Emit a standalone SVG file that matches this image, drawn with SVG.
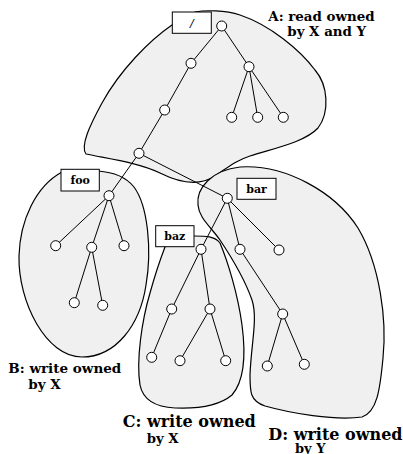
<svg xmlns="http://www.w3.org/2000/svg" width="403" height="454" viewBox="0 0 403 454">
<style>
.blob{fill:#f0f0f0;stroke:#000;stroke-width:1.2}
.edge{stroke:#000;stroke-width:1;fill:none}
.node{fill:#fff;stroke:#000;stroke-width:1}
.box{fill:#fff;stroke:#000;stroke-width:1}
.lbl{font-family:"DejaVu Serif",serif;font-weight:bold;font-size:11px;fill:#000}
.cap{font-family:"DejaVu Serif",serif;font-weight:bold;fill:#000}
</style>
<rect width="403" height="454" fill="#fff"/>
<g id="regions">
<path id="regionA" class="blob" d="M172,25 C150,40 120,70 102,103 C90,125 80,146 86,154 C110,159 140,163 160,173 C180,183 200,186 215,176 C230,166 235,161 250,156 C275,148 305,142 318,128 C330,112 328,85 315,70 C300,50 270,25 240,15 C225,10 205,10 195,12 Z"/>
<path id="regionB" class="blob" d="M62,172 C36,186 20,220 19,256 C18,302 46,357 82,357 C116,357 140,325 146,285 C152,250 148,206 134,187 C126,177 112,172 98,171 Z"/>
<path id="regionD" class="blob" d="M198,205 C196,188 212,170 240,167 C285,164 335,192 358,228 C380,265 387,320 383,358 C380,390 377,412 362,417 C335,421 290,413 265,406 C250,401 250,392 250,375 C251,345 258,318 252,300 C245,280 232,258 220,240 C210,226 199,218 198,205 Z"/>
<path id="regionC" class="blob" d="M194,236 C205,236 215,236 220,243 C228,262 238,295 242,325 C246,355 245,380 232,395 C220,405 200,409 175,408 C155,407 143,400 140,385 C136,360 142,320 150,293 C155,275 160,260 165,247 L175,236 Z"/>
</g>
<g id="connectors" class="edge">
<line x1="221.7" y1="26" x2="191" y2="63.3"/>
<line x1="221.7" y1="26" x2="249" y2="66.7"/>
<line x1="191" y1="63.3" x2="164.7" y2="110"/>
<line x1="164.7" y1="110" x2="139" y2="153.3"/>
<line x1="249" y1="66.7" x2="231.7" y2="117.3"/>
<line x1="249" y1="66.7" x2="257.7" y2="117.3"/>
<line x1="249" y1="66.7" x2="283.3" y2="117.3"/>
<line x1="139" y1="153.3" x2="109" y2="195.7"/>
<line x1="139" y1="153.3" x2="227.3" y2="198.3"/>
<line x1="109" y1="195.7" x2="55.7" y2="245.7"/>
<line x1="109" y1="195.7" x2="91.7" y2="247.3"/>
<line x1="109" y1="195.7" x2="124" y2="245.7"/>
<line x1="91.7" y1="247.3" x2="74.3" y2="302.7"/>
<line x1="91.7" y1="247.3" x2="102.7" y2="305.3"/>
<line x1="227.3" y1="198.3" x2="201" y2="249.3"/>
<line x1="227.3" y1="198.3" x2="240" y2="249.3"/>
<line x1="227.3" y1="198.3" x2="279" y2="250"/>
<line x1="201" y1="249.3" x2="171.7" y2="309"/>
<line x1="201" y1="249.3" x2="210" y2="309"/>
<line x1="171.7" y1="309" x2="151.7" y2="357.3"/>
<line x1="210" y1="309" x2="180" y2="360.7"/>
<line x1="210" y1="309" x2="225.7" y2="360.7"/>
<line x1="240" y1="249.3" x2="282.7" y2="314"/>
<line x1="282.7" y1="314" x2="267.3" y2="366"/>
<line x1="282.7" y1="314" x2="304.3" y2="364.3"/>
</g>
<g id="nodes" class="node">
<circle id="n-root" cx="221.7" cy="26" r="5"/>
<circle id="n-a1" cx="191" cy="63.3" r="5"/>
<circle id="n-a2" cx="249" cy="66.7" r="5"/>
<circle id="n-a3" cx="164.7" cy="110" r="5"/>
<circle id="n-a4" cx="231.7" cy="117.3" r="5"/>
<circle id="n-a5" cx="257.7" cy="117.3" r="5"/>
<circle id="n-a6" cx="283.3" cy="117.3" r="5"/>
<circle id="n-a7" cx="139" cy="153.3" r="5"/>
<circle id="n-foo" cx="109" cy="195.7" r="5"/>
<circle id="n-b1" cx="55.7" cy="245.7" r="5"/>
<circle id="n-b2" cx="91.7" cy="247.3" r="5"/>
<circle id="n-b3" cx="124" cy="245.7" r="5"/>
<circle id="n-b4" cx="74.3" cy="302.7" r="5"/>
<circle id="n-b5" cx="102.7" cy="305.3" r="5"/>
<circle id="n-bar" cx="227.3" cy="198.3" r="5"/>
<circle id="n-baz" cx="201" cy="249.3" r="5"/>
<circle id="n-c1" cx="171.7" cy="309" r="5"/>
<circle id="n-c2" cx="210" cy="309" r="5"/>
<circle id="n-c3" cx="151.7" cy="357.3" r="5"/>
<circle id="n-c4" cx="180" cy="360.7" r="5"/>
<circle id="n-c5" cx="225.7" cy="360.7" r="5"/>
<circle id="n-d1" cx="240" cy="249.3" r="5"/>
<circle id="n-d2" cx="279" cy="250" r="5"/>
<circle id="n-d3" cx="282.7" cy="314" r="5"/>
<circle id="n-d4" cx="267.3" cy="366" r="5"/>
<circle id="n-d5" cx="304.3" cy="364.3" r="5"/>
</g>
<g id="box-root">
<rect class="box" x="172.3" y="12" width="39" height="21.3"/>
<text x="191.8" y="27" text-anchor="middle" font-family="DejaVu Sans, sans-serif" font-size="11" font-style="italic">/</text>
</g>
<g id="box-foo">
<rect class="box" x="61" y="169.3" width="38.3" height="21.7"/>
<text class="lbl" x="80.2" y="184" text-anchor="middle">foo</text>
</g>
<g id="box-bar">
<rect class="box" x="237" y="178.3" width="39" height="21"/>
<text class="lbl" x="256.5" y="193" text-anchor="middle">bar</text>
</g>
<g id="box-baz">
<rect class="box" x="155.7" y="225.7" width="38.3" height="21"/>
<text class="lbl" x="174.8" y="240.3" text-anchor="middle">baz</text>
</g>
<g id="label-A" class="cap" font-size="13.4">
<text x="268.3" y="20.7">A: read owned</text>
<text x="287.3" y="36">by X and Y</text>
</g>
<g id="label-B" class="cap" font-size="13.5">
<text x="8.3" y="373.3">B: write owned</text>
<text x="28.3" y="389.3">by X</text>
</g>
<g id="label-C" class="cap">
<text x="122.7" y="426.7" font-size="16">C: write owned</text>
<text x="146.7" y="443.3" font-size="13.3">by X</text>
</g>
<g id="label-D" class="cap">
<text x="268.3" y="440" font-size="16">D: write owned</text>
<text x="295" y="452.5" font-size="13">by Y</text>
</g>
</svg>
